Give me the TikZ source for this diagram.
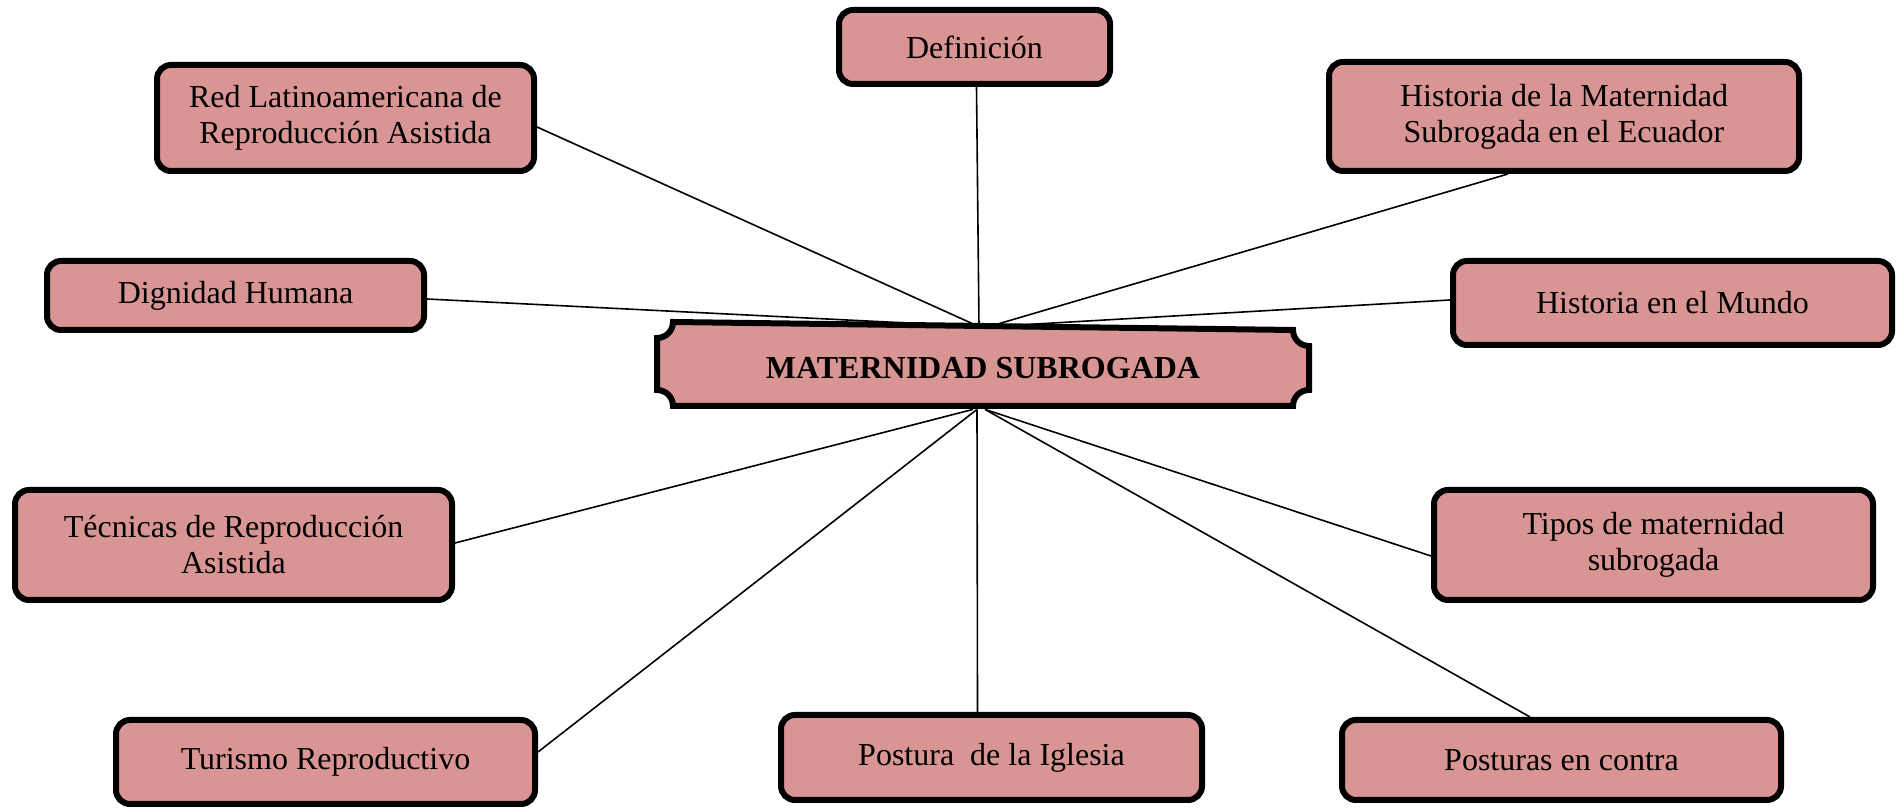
\documentclass[tikz,border=0pt]{standalone}
\usepackage{fontspec}
\setmainfont{Liberation Serif}
\definecolor{boxfill}{HTML}{D99594}
\tikzset{
  topic/.style={draw=black, line width=3pt, fill=boxfill, rounded corners=7pt,
    align=center, inner sep=0pt, font=\fontsize{16}{18}\selectfont},
  link/.style={draw=black, line width=0.8pt}
}
\begin{document}
\begin{tikzpicture}[x=0.5pt,y=0.5pt]
\useasboundingbox (0,0) rectangle (1896,808);
% central plaque
\path[draw=black, line width=3pt, fill=boxfill]
  (657,470) arc[start angle=270,end angle=360,radius=8pt]
  -- (1293,478) arc[start angle=180,end angle=270,radius=8pt]
  -- (1309,418) arc[start angle=90,end angle=180,radius=8pt]
  -- (673,402) arc[start angle=0,end angle=90,radius=8pt]
  -- cycle;
\node[minimum width=329pt, minimum height=41pt, inner sep=0pt,
  font=\fontsize{16}{18}\selectfont\bfseries] (c) at (983,440) {MATERNIDAD SUBROGADA};

\node[topic, minimum width=135.5pt, minimum height=37pt] (def) at (974.5,761) {Definición};
\node[topic, minimum width=188.5pt, minimum height=53pt] (red) at (345.5,690) {Red Latinoamericana de\\Reproducción Asistida};
\node[topic, minimum width=188.5pt, minimum height=34.5pt] (dig) at (235.5,512.5) {Dignidad Humana};
\node[topic, minimum width=235pt, minimum height=54.5pt] (hme) at (1564,691.5) {Historia de la Maternidad\\Subrogada en el Ecuador};
\node[topic, minimum width=219.5pt, minimum height=42pt] (hmu) at (1672.5,505) {Historia en el Mundo};
\node[topic, minimum width=218.5pt, minimum height=55pt] (tec) at (233.5,263) {Técnicas de Reproducción\\Asistida};
\node[topic, minimum width=209.5pt, minimum height=42pt] (tur) at (325.5,46) {Turismo Reproductivo};
\node[topic, minimum width=210.5pt, minimum height=42.5pt] (igl) at (991.5,50.5) {Postura\ \ de la Iglesia};
\node[topic, minimum width=219.5pt, minimum height=55pt] (tip) at (1653.5,263) {Tipos de maternidad\\subrogada};
\node[topic, minimum width=219.5pt, minimum height=40pt] (con) at (1561.5,48) {Posturas en contra};

% connectors
\draw[link] ([xshift=1pt]def.south) -- ([xshift=-2pt]c.north);
\draw[link] ([yshift=-4.5pt]red.east) -- ([xshift=-2pt]c.north);
\draw[link] ([yshift=-1.75pt]dig.east) -- ([xshift=-2pt]c.north);
\draw[link] ([xshift=-28pt]hme.south) -- ([xshift=3pt]c.north);
\draw[link] ([yshift=1.5pt]hmu.west) -- ([xshift=4pt]c.north);
\draw[link] ([yshift=1pt]tec.east) -- ([xshift=-5pt]c.south);
\draw[link] ([yshift=5pt]tur.east) -- ([xshift=-3pt]c.south);
\draw[link] ([xshift=-7pt]igl.north) -- ([xshift=-3pt]c.south);
\draw[link] ([yshift=-5.5pt]tip.west) -- ([xshift=1pt]c.south);
\draw[link] ([xshift=-15.75pt]con.north) -- ([xshift=1pt]c.south);
\end{tikzpicture}
\end{document}
